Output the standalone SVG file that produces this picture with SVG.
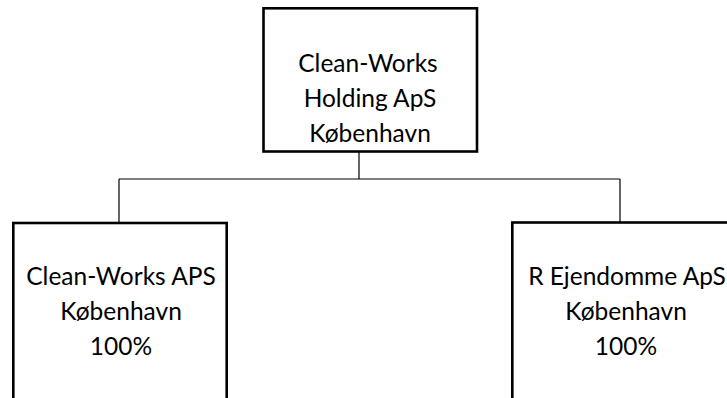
<svg xmlns="http://www.w3.org/2000/svg" width="727" height="398" viewBox="0 0 727 398">
<style>
.box{fill:#ffffff;stroke:#000000;stroke-width:2.6}
.lbl{font-family:Lato,"Open Sans","Liberation Sans",sans-serif;font-size:24.5px;fill:#000000;text-anchor:middle}
.conn{fill:none;stroke:#000000;stroke-width:1.2}
</style>
<rect width="727" height="398" fill="#ffffff"/>
<g id="connectors">
<path class="conn" d="M359,151.5 V179 M119,179 H620 M119,179 V222 M620,179 V222"/>
</g>
<g id="holding">
<rect class="box" x="263.5" y="8.3" width="213.5" height="143.2"/>
<text class="lbl" x="368" y="72">Clean-Works</text>
<text class="lbl" x="370" y="107">Holding ApS</text>
<text class="lbl" x="370" y="142">København</text>
</g>
<g id="cleanworks">
<rect class="box" x="13.3" y="223" width="213.4" height="200"/>
<text class="lbl" x="121" y="285">Clean-Works APS</text>
<text class="lbl" x="121" y="320">København</text>
<text class="lbl" x="121" y="355">100%</text>
</g>
<g id="ejendomme">
<rect class="box" x="512.3" y="222.5" width="240" height="200"/>
<text class="lbl" x="627" y="285">R Ejendomme ApS</text>
<text class="lbl" x="626" y="320">København</text>
<text class="lbl" x="626" y="355">100%</text>
</g>
</svg>
